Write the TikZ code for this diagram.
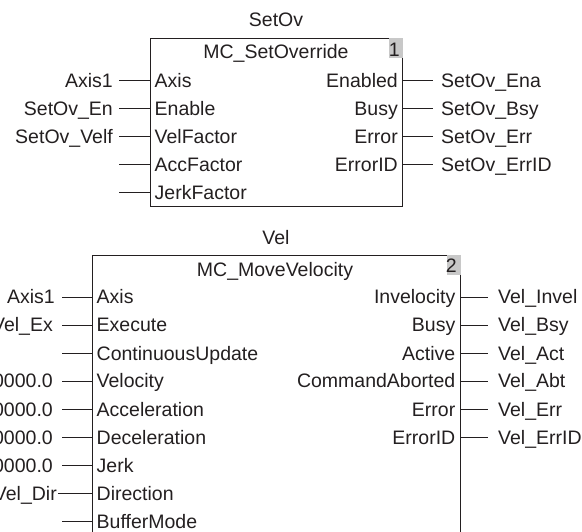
\documentclass[tikz,border=0pt]{standalone}
\usepackage{fontspec}
\setmainfont{Liberation Sans}
\definecolor{ink}{HTML}{231F20}
\definecolor{numgray}{HTML}{C8C8C8}
\begin{document}
\begin{tikzpicture}[x=1pt,y=-1pt,
  txt/.style={inner sep=0pt, font=\fontsize{19.5}{22}\selectfont, text=ink},
  portin/.style={txt, anchor=base west},
  portout/.style={txt, anchor=base east},
  extin/.style={txt, anchor=base east},
  extout/.style={txt, anchor=base west},
  title/.style={txt, anchor=base},
  fbox/.style={draw=ink, line width=0.9pt, inner sep=0pt, anchor=north west},
  wire/.style={draw=ink, line width=0.9pt},
  numbox/.style={fill=numgray, inner sep=0pt, anchor=north east}
]
\useasboundingbox (0,0) rectangle (582,532);

% ---------- SetOv block ----------
\node[title] (ovname) at (276,27) {SetOv};
\node[fbox, minimum width=252pt, minimum height=168pt] (ovbox) at (150,38) {};
\node[numbox, minimum width=14pt, minimum height=20pt] (ovnumbg) at (ovbox.north east) {};
\node[txt, anchor=base east] (ovnum) at (400,57) {1};
\node[title] (ovtype) at (276,59) {MC\_SetOverride};

\foreach \i/\yy/\port/\lbl in {1/80.5/Axis/Axis1, 2/108.5/Enable/SetOv\_En, 3/136.5/VelFactor/SetOv\_Velf, 4/164.5/AccFactor/, 5/192.5/JerkFactor/}{
  \node[portin] (ovin\i) at (154.5,\yy+7) {\port};
  \coordinate (ovinL\i) at (119,\yy);
  \node[extin] (ovext\i) at (113,\yy+7) {\lbl};
  \draw[wire] (ovinL\i) -- (ovinL\i -| ovbox.west);
}
\foreach \i/\yy/\port/\lbl in {1/80.5/Enabled/SetOv\_Ena, 2/108.5/Busy/SetOv\_Bsy, 3/136.5/Error/SetOv\_Err, 4/164.5/ErrorID/SetOv\_ErrID}{
  \node[portout] (ovout\i) at (398,\yy+7) {\port};
  \coordinate (ovoutR\i) at (433,\yy);
  \node[extout] (ovoext\i) at (441,\yy+7) {\lbl};
  \draw[wire] (ovoutR\i -| ovbox.east) -- (ovoutR\i);
}

% ---------- Vel block ----------
\node[title] (velname) at (276,245) {Vel};
\node[fbox, minimum width=368pt, minimum height=300pt] (velbox) at (92,255) {};
\node[numbox, minimum width=14pt, minimum height=20pt] (velnumbg) at (velbox.north east) {};
\node[txt, anchor=base east] (velnum) at (457,273) {2};
\node[title] (veltype) at (275,277) {MC\_MoveVelocity};

\foreach \i/\yy/\port/\lbl/\lx/\ex in {1/297/Axis/Axis1/62/55, 2/325/Execute/Vel\_Ex/62/53, 3/353/ContinuousUpdate//62/53, 4/381/Velocity/10000.0/62/53, 5/409/Acceleration/10000.0/62/53, 6/437/Deceleration/10000.0/62/53, 7/465/Jerk/10000.0/62/53, 8/493/Direction/Vel\_Dir/58/57, 9/521/BufferMode//62/53}{
  \node[portin] (velin\i) at (96.5,\yy+7) {\port};
  \coordinate (velinL\i) at (\lx,\yy);
  \node[extin] (velext\i) at (\ex,\yy+7) {\lbl};
  \draw[wire] (velinL\i) -- (velinL\i -| velbox.west);
}
\foreach \i/\yy/\port/\lbl in {1/297/Invelocity/Vel\_Invel, 2/325/Busy/Vel\_Bsy, 3/353/Active/Vel\_Act, 4/381/CommandAborted/Vel\_Abt, 5/409/Error/Vel\_Err, 6/437/ErrorID/Vel\_ErrID}{
  \node[portout] (velout\i) at (455.5,\yy+7) {\port};
  \coordinate (veloutR\i) at (488,\yy);
  \node[extout] (veloext\i) at (498,\yy+7) {\lbl};
  \draw[wire] (veloutR\i -| velbox.east) -- (veloutR\i);
}
\end{tikzpicture}
\end{document}
